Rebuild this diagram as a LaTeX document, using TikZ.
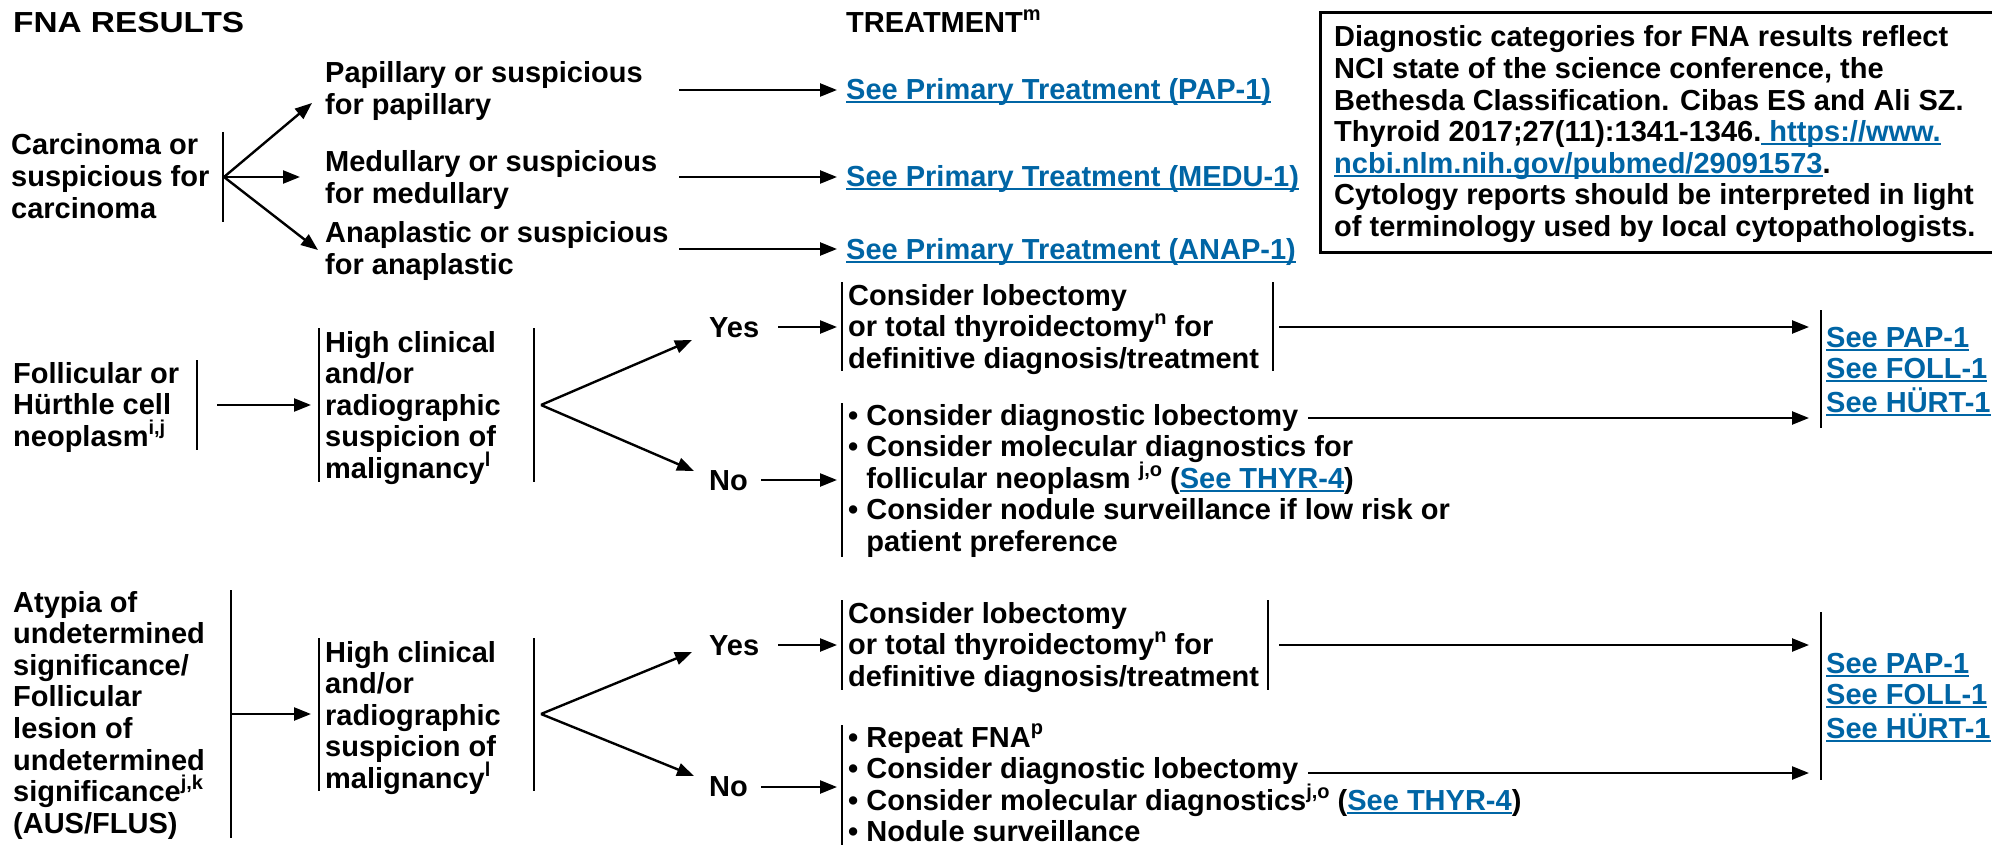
\documentclass[tikz,border=0pt]{standalone}
\usepackage{fontspec}
\usepackage{graphicx}
\setmainfont{Liberation Sans}
\usetikzlibrary{arrows.meta}
\definecolor{lnk}{RGB}{0,101,165}
\newcommand{\lk}[1]{{\color{lnk}\setbox0\hbox{#1}\rlap{\rule[-3.5pt]{\wd0}{2pt}}\box0}}
\newcommand{\sps}[1]{\smash{\raisebox{0.42em}{\fontsize{20}{20}\selectfont #1}}}
\newcommand{\ml}[1]{\begin{tabular}[t]{@{}l@{}}#1\end{tabular}}
\newcommand{\bu}{\textbullet\ }
\newcommand{\ind}{\phantom{\textbullet\ }}
\begin{document}
\begin{tikzpicture}[x=1pt,y=-1pt,
  txt/.style={anchor=base west, inner sep=0pt, font=\fontsize{29}{31.6}\selectfont\bfseries},
  bar/.style={line width=2pt},
  arr/.style={line width=2.4pt,-{Triangle[length=17pt,width=13pt]}},
  plain/.style={line width=2.4pt}]
\useasboundingbox[fill=white] (0,0) rectangle (1992,845);

% headers
\node[txt] (hfna) at (13,33) {\scalebox{1.15}[1]{FNA RESULTS}};
\node[txt] (htrt) at (846,33) {TREATMENT\sps{m}};

% note box
\draw[line width=3pt] (1994,13) -- (1320,13) -- (1320,253) -- (1994,253);
\node[txt] (note) at (1334,47) {\ml{Diagnostic categories for FNA results reflect\\
NCI state of the science conference, the\\
Bethesda Classification. Cibas ES and Ali SZ.\\
Thyroid 2017;27(11):1341-1346.\lk{\ https://www.}\\
\lk{ncbi.nlm.nih.gov/pubmed/29091573}.\\
Cytology reports should be interpreted in light\\
of terminology used by local cytopathologists.}};

% ---------- row 1 ----------
\node[txt] (carc) at (11,155) {\ml{Carcinoma or\\suspicious for\\carcinoma}};
\coordinate (carcT) at (223,132); \coordinate (carcB) at (223,222);
\draw[bar] (carcT) -- (carcB);
\coordinate (carcO) at (224,177);
\coordinate (papT) at (312,103); \coordinate (medT) at (300,177); \coordinate (anaT) at (318,250);
\draw[arr] (carcO) -- (papT);
\draw[arr] (carcO) -- (medT);
\draw[arr] (carcO) -- (anaT);
\node[txt] (pap) at (325,83) {\ml{Papillary or suspicious\\for papillary}};
\node[txt] (med) at (325,172) {\ml{Medullary or suspicious\\for medullary}};
\node[txt] (ana) at (325,243) {\ml{Anaplastic or suspicious\\for anaplastic}};
\coordinate (papS) at (679,90); \coordinate (papE) at (837,90);
\coordinate (medS) at (679,177); \coordinate (medE) at (837,177);
\coordinate (anaS) at (679,249); \coordinate (anaE) at (837,249);
\draw[arr] (papS) -- (papE);
\draw[arr] (medS) -- (medE);
\draw[arr] (anaS) -- (anaE);
\node[txt] (pap1) at (846,100) {\lk{See Primary Treatment (PAP-1)}};
\node[txt] (medu1) at (846,187) {\lk{See Primary Treatment (MEDU-1)}};
\node[txt] (anap1) at (846,259) {\lk{See Primary Treatment (ANAP-1)}};

% ---------- row 2 ----------
\node[txt] (foll) at (13,383) {\ml{Follicular or\\H\"urthle cell\\neoplasm\sps{i,j}}};
\coordinate (follT) at (197,360); \coordinate (follB) at (197,450);
\draw[bar] (follT) -- (follB);
\coordinate (follS) at (217,405); \coordinate (follE) at (311,405);
\draw[arr] (follS) -- (follE);
\coordinate (hc1LT) at (319,328); \coordinate (hc1LB) at (319,482);
\coordinate (hc1RT) at (534,328); \coordinate (hc1RB) at (534,482);
\draw[bar] (hc1LT) -- (hc1LB);
\draw[bar] (hc1RT) -- (hc1RB);
\node[txt] (hc1) at (325,352) {\ml{High clinical\\and/or\\radiographic\\suspicion of\\malignancy\sps{l}}};
\coordinate (hc1O) at (541,405);
\coordinate (y1T) at (692,340); \coordinate (n1T) at (694,471);
\draw[plain,-{Triangle[length=17pt,width=13pt]}] (hc1O) -- (y1T);
\draw[plain,-{Triangle[length=17pt,width=13pt]}] (hc1O) -- (n1T);
\node[txt] (yes1) at (709,337) {Yes};
\node[txt] (no1) at (709,490) {No};
\coordinate (y1S) at (778,327); \coordinate (y1E) at (837,327);
\coordinate (n1S) at (761,480); \coordinate (n1E) at (837,480);
\draw[arr] (y1S) -- (y1E);
\draw[arr] (n1S) -- (n1E);
\coordinate (lob1LT) at (842,282); \coordinate (lob1LB) at (842,371);
\coordinate (lob1RT) at (1273,282); \coordinate (lob1RB) at (1273,371);
\draw[bar] (lob1LT) -- (lob1LB);
\draw[bar] (lob1RT) -- (lob1RB);
\node[txt] (lob1) at (848,305) {\ml{Consider lobectomy\\or total thyroidectomy\sps{n} for\\definitive diagnosis/treatment}};
\coordinate (lob1S) at (1279,327); \coordinate (lob1E) at (1809,327);
\draw[arr] (lob1S) -- (lob1E);
\coordinate (no1LT) at (842,403); \coordinate (no1LB) at (842,557);
\draw[bar] (no1LT) -- (no1LB);
\node[txt] (no1box) at (848,425) {\ml{\bu Consider diagnostic lobectomy\\
\bu Consider molecular diagnostics for\\
\ind follicular neoplasm \sps{j,o} (\lk{See THYR-4})\\
\bu Consider nodule surveillance if low risk or\\
\ind patient preference}};
\coordinate (dl1S) at (1308,418); \coordinate (dl1E) at (1809,418);
\draw[arr] (dl1S) -- (dl1E);
\coordinate (see1T) at (1821,310); \coordinate (see1B) at (1821,428);
\draw[bar] (see1T) -- (see1B);
\node[txt] (see1) at (1826,347) {\ml{\lk{See PAP-1}\\\lk{See FOLL-1}\\\lk{See H\"URT-1}}};

% ---------- row 3 ----------
\node[txt] (aus) at (13,612) {\ml{Atypia of\\undetermined\\significance/\\Follicular\\lesion of\\undetermined\\significance\sps{j,k}\\(AUS/FLUS)}};
\coordinate (ausT) at (231,590); \coordinate (ausB) at (231,838);
\draw[bar] (ausT) -- (ausB);
\coordinate (ausS) at (231,714); \coordinate (ausE) at (311,714);
\draw[arr] (ausS) -- (ausE);
\coordinate (hc2LT) at (319,638); \coordinate (hc2LB) at (319,791);
\coordinate (hc2RT) at (534,638); \coordinate (hc2RB) at (534,791);
\draw[bar] (hc2LT) -- (hc2LB);
\draw[bar] (hc2RT) -- (hc2RB);
\node[txt] (hc2) at (325,662) {\ml{High clinical\\and/or\\radiographic\\suspicion of\\malignancy\sps{l}}};
\coordinate (hc2O) at (541,714);
\coordinate (y2T) at (692,652); \coordinate (n2T) at (694,776);
\draw[plain,-{Triangle[length=17pt,width=13pt]}] (hc2O) -- (y2T);
\draw[plain,-{Triangle[length=17pt,width=13pt]}] (hc2O) -- (n2T);
\node[txt] (yes2) at (709,655) {Yes};
\node[txt] (no2) at (709,796) {No};
\coordinate (y2S) at (778,645); \coordinate (y2E) at (837,645);
\coordinate (n2S) at (761,787); \coordinate (n2E) at (837,787);
\draw[arr] (y2S) -- (y2E);
\draw[arr] (n2S) -- (n2E);
\coordinate (lob2LT) at (842,600); \coordinate (lob2LB) at (842,690);
\coordinate (lob2RT) at (1268,600); \coordinate (lob2RB) at (1268,690);
\draw[bar] (lob2LT) -- (lob2LB);
\draw[bar] (lob2RT) -- (lob2RB);
\node[txt] (lob2) at (848,623) {\ml{Consider lobectomy\\or total thyroidectomy\sps{n} for\\definitive diagnosis/treatment}};
\coordinate (lob2S) at (1279,645); \coordinate (lob2E) at (1809,645);
\draw[arr] (lob2S) -- (lob2E);
\coordinate (no2LT) at (842,725); \coordinate (no2LB) at (842,846);
\draw[bar] (no2LT) -- (no2LB);
\node[txt] (no2box) at (848,747) {\ml{\bu Repeat FNA\sps{p}\\
\bu Consider diagnostic lobectomy\\
\bu Consider molecular diagnostics\sps{j,o} (\lk{See THYR-4})\\
\bu Nodule surveillance}};
\coordinate (dl2S) at (1308,773); \coordinate (dl2E) at (1809,773);
\draw[arr] (dl2S) -- (dl2E);
\coordinate (see2T) at (1821,612); \coordinate (see2B) at (1821,780);
\draw[bar] (see2T) -- (see2B);
\node[txt] (see2) at (1826,673) {\ml{\lk{See PAP-1}\\\lk{See FOLL-1}\\\lk{See H\"URT-1}}};
\end{tikzpicture}
\end{document}
